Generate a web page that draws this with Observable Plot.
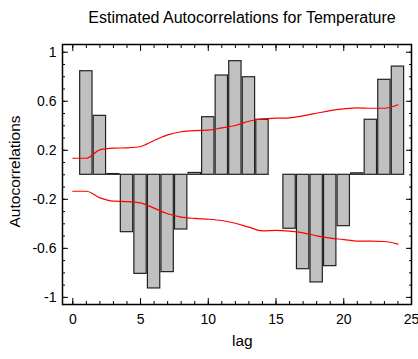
<!DOCTYPE html>
<html>
<head>
<meta charset="utf-8">
<script src="https://cdn.jsdelivr.net/npm/d3@7"></script>
<script src="https://cdn.jsdelivr.net/npm/@observablehq/plot@0.6"></script>
<style>
  html, body { margin: 0; padding: 0; background: #fff; }
  svg { display: block; }
</style>
</head>
<body>
<div id="chart"></div>
<script>
const lags  = [1,2,3,4,5,6,7,8,9,10,11,12,13,14,15,16,17,18,19,20,21,22,23,24];
const acf   = [0.845,0.481,0.006,-0.468,-0.808,-0.927,-0.794,-0.446,0.015,0.470,0.810,0.927,0.796,0.449,0,-0.440,-0.770,-0.878,-0.745,-0.419,0.012,0.449,0.775,0.883];
const bandLags = [0,1,2,3,4,5,6,7,8,9,10,11,12,13,14,15,16,17,18,19,20,21,22,23,24];
const upper = [0.135,0.135,0.204,0.217,0.220,0.231,0.280,0.326,0.351,0.361,0.364,0.383,0.402,0.437,0.457,0.462,0.465,0.481,0.502,0.524,0.538,0.546,0.543,0.543,0.571];
const lower = [-0.134,-0.134,-0.188,-0.215,-0.218,-0.229,-0.272,-0.318,-0.345,-0.356,-0.362,-0.373,-0.395,-0.427,-0.457,-0.454,-0.460,-0.473,-0.498,-0.517,-0.528,-0.541,-0.541,-0.544,-0.566];
const yLabelTicks = [1,0.6,0.2,-0.2,-0.6,-1];
const yMinorTicks = d3.range(-10, 11).map(i => i / 10);
const xMajorTicks = [0,5,10,15,20,25];
const xMinorTicks = d3.range(0, 26);

const bars = lags.map((lag, i) => ({lag, value: acf[i]}));
const band = bandLags.map((lag, i) => ({lag, upper: upper[i], lower: lower[i]}));

const font = "Liberation Sans, Arial, Helvetica, sans-serif";

const chart = Plot.plot({
  width: 418,
  height: 359,
  marginLeft: 62,
  marginRight: 7,
  marginTop: 44,
  marginBottom: 55,
  style: {fontFamily: font, fontSize: "14px", background: "white", color: "black"},
  x: {domain: [-0.76, 25], axis: null},
  y: {domain: [-1.058, 1.063], axis: null},
  marks: [
    Plot.rectY(bars, {
      x1: d => d.lag - 0.5, x2: d => d.lag + 0.5, y: "value",
      insetLeft: 0.6, insetRight: 0.6,
      fill: "#c0c0c0", stroke: "#222", strokeWidth: 1.2
    }),
    Plot.line(band, {x: "lag", y: "upper", stroke: "#ff0000", strokeWidth: 1.2, curve: "monotone-x"}),
    Plot.line(band, {x: "lag", y: "lower", stroke: "#ff0000", strokeWidth: 1.2, curve: "monotone-x"}),
    // inward ticks
    Plot.axisY({anchor: "left", ticks: yMinorTicks, tickSize: -3, tickFormat: () => "", label: null}),
    Plot.axisY({anchor: "left", ticks: yLabelTicks, tickSize: -6, tickFormat: () => "", label: null}),
    Plot.axisY({anchor: "right", ticks: yMinorTicks, tickSize: -3, tickFormat: () => "", label: null}),
    Plot.axisY({anchor: "right", ticks: yLabelTicks, tickSize: -6, tickFormat: () => "", label: null}),
    Plot.axisX({anchor: "bottom", ticks: xMinorTicks, tickSize: -3, tickFormat: () => "", label: null}),
    Plot.axisX({anchor: "bottom", ticks: xMajorTicks, tickSize: -6, tickFormat: () => "", label: null}),
    Plot.axisX({anchor: "top", ticks: xMinorTicks, tickSize: -3, tickFormat: () => "", label: null}),
    Plot.axisX({anchor: "top", ticks: xMajorTicks, tickSize: -6, tickFormat: () => "", label: null}),
    // tick labels
    Plot.axisY({anchor: "left", ticks: yLabelTicks, tickSize: 0, tickPadding: 6, tickFormat: d => String(d), label: null, fontSize: 14}),
    Plot.axisX({anchor: "bottom", ticks: xMajorTicks, tickSize: 0, tickPadding: 10, tickFormat: d => String(d), label: null, fontSize: 14}),
    Plot.frame({stroke: "black", strokeWidth: 1.5}),
    // titles
    Plot.text(["Estimated Autocorrelations for Temperature"], {frameAnchor: "top", dx: 5, dy: -32.5, fontSize: 16, fill: "black"}),
    Plot.text(["Autocorrelations"], {frameAnchor: "left", textAnchor: "middle", rotate: -90, dx: -47.5, dy: -3, fontSize: 15.5, fill: "black"}),
    Plot.text(["lag"], {frameAnchor: "bottom", dx: 5.4, dy: 41, fontSize: 15.5, fill: "black"})
  ]
});

document.getElementById("chart").appendChild(chart);
</script>
</body>
</html>
